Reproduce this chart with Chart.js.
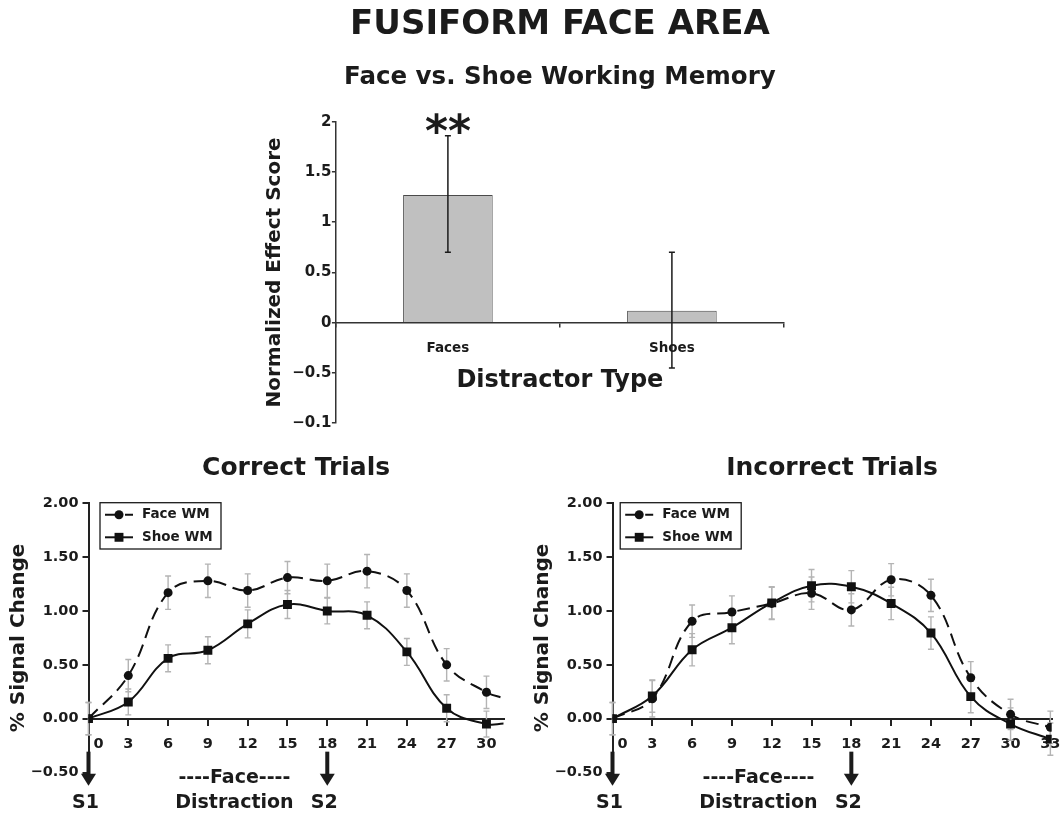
<!DOCTYPE html>
<html>
<head>
<meta charset="utf-8">
<script src="https://cdn.jsdelivr.net/npm/chart.js@4.4.0/dist/chart.umd.min.js"></script>
<style>
  html, body { margin: 0; padding: 0; background: #fff; }
  #wrap { position: relative; width: 1061px; height: 813px; overflow: hidden; }
  .box { position: absolute; }
</style>
</head>
<body>
<div id="wrap">
  <div class="box" style="left:0;top:0;width:1061px;height:500px"><canvas id="bar"></canvas></div>
  <div class="box" style="left:0;top:450px;width:524px;height:363px"><canvas id="correct"></canvas></div>
  <div class="box" style="left:524px;top:450px;width:537px;height:363px"><canvas id="incorrect"></canvas></div>
</div>
<script>
// top panel: normalized effect score per distractor type
const distractorTypes = ['Faces', 'Shoes'];
const effectScores = [1.27, 0.12];
const effectLow = [0.70, -0.45];
const effectHigh = [1.86, 0.70];
const effectMarks = ['**', ''];

// time courses (seconds after S1), % signal change
const secondsCorrect = [0, 3, 6, 9, 12, 15, 18, 21, 24, 27, 30, 31.3];
const faceCorrect = [0, 0.40, 1.17, 1.28, 1.19, 1.31, 1.28, 1.37, 1.19, 0.50, 0.245, 0.19];
const faceCorrectErr = [0.15, 0.15, 0.155, 0.155, 0.155, 0.15, 0.155, 0.155, 0.155, 0.15, 0.15, null];
const shoeCorrect = [0, 0.155, 0.56, 0.635, 0.88, 1.06, 1.00, 0.96, 0.62, 0.097, -0.05, -0.045];
const shoeCorrectErr = [0.15, 0.12, 0.125, 0.125, 0.13, 0.13, 0.12, 0.125, 0.125, 0.125, 0.12, null];

const secondsIncorrect = [0, 3, 6, 9, 12, 15, 18, 21, 24, 27, 30, 33];
const faceIncorrect = [0, 0.185, 0.905, 0.99, 1.07, 1.165, 1.01, 1.29, 1.145, 0.38, 0.04, -0.08];
const faceIncorrectErr = [0.15, 0.17, 0.15, 0.15, 0.15, 0.15, 0.15, 0.15, 0.15, 0.15, 0.14, 0.15];
const shoeIncorrect = [0, 0.21, 0.64, 0.845, 1.075, 1.235, 1.225, 1.07, 0.795, 0.205, -0.05, -0.19];
const shoeIncorrectErr = [0.15, 0.15, 0.15, 0.15, 0.15, 0.15, 0.15, 0.15, 0.15, 0.15, 0.15, 0.15];

// trial events under the time axis
const stimulusTimes = [0, 18];
const stimulusLabels = ['S1', 'S2'];
const distractionTime = 11;
const distractionLabel = ['----Face----', 'Distraction'];

const INK = '#1b1b1b';
Chart.defaults.font.family = "'DejaVu Sans', sans-serif";
Chart.defaults.font.weight = 'bold';
Chart.defaults.color = INK;

function minus(s) { return s.replace('-', '\u2212'); }

// error bars + ** for the bar panel
const barErrors = {
  id: 'barErrors',
  afterDatasetsDraw(chart) {
    const ctx = chart.ctx, y = chart.scales.y;
    const ds = chart.data.datasets[0];
    chart.getDatasetMeta(0).data.forEach((el, i) => {
      const top = y.getPixelForValue(ds.errHigh[i]);
      const bot = y.getPixelForValue(ds.errLow[i]);
      ctx.save();
      ctx.strokeStyle = INK; ctx.lineWidth = 1.5;
      ctx.beginPath();
      ctx.moveTo(el.x, top); ctx.lineTo(el.x, bot);
      ctx.moveTo(el.x - 3, top); ctx.lineTo(el.x + 3, top);
      ctx.moveTo(el.x - 3, bot); ctx.lineTo(el.x + 3, bot);
      ctx.stroke();
      if (ds.marks[i]) {
        ctx.fillStyle = INK;
        ctx.font = "bold 44px 'DejaVu Sans'";
        ctx.textAlign = 'center';
        ctx.textBaseline = 'alphabetic';
        ctx.fillText(ds.marks[i], el.x, top + 10);
      }
      ctx.restore();
    });
  }
};

// grey error bars behind the time-course lines
const lineErrors = {
  id: 'lineErrors',
  beforeDatasetsDraw(chart) {
    const ctx = chart.ctx, y = chart.scales.y;
    ctx.save();
    ctx.strokeStyle = '#b4b4b4'; ctx.lineWidth = 1.4;
    chart.data.datasets.forEach((ds, di) => {
      chart.getDatasetMeta(di).data.forEach((el, i) => {
        const e = ds.errors[i];
        if (e == null) return;
        const v = ds.data[i].y;
        const t = y.getPixelForValue(v + e), b = y.getPixelForValue(v - e);
        ctx.beginPath();
        ctx.moveTo(el.x, t); ctx.lineTo(el.x, b);
        ctx.moveTo(el.x - 3, t); ctx.lineTo(el.x + 3, t);
        ctx.moveTo(el.x - 3, b); ctx.lineTo(el.x + 3, b);
        ctx.stroke();
      });
    });
    ctx.restore();
  }
};

// boxed legend inside the plot, top left
const boxLegend = {
  id: 'boxLegend',
  afterDraw(chart, args, opts) {
    const ctx = chart.ctx, area = chart.chartArea;
    const bx = area.left + opts.dx, by = area.top + opts.dy;
    ctx.save();
    ctx.fillStyle = '#fff';
    ctx.fillRect(bx, by, opts.width, opts.height);
    ctx.strokeStyle = INK; ctx.lineWidth = 1.3;
    ctx.strokeRect(bx, by, opts.width, opts.height);
    chart.data.datasets.forEach((ds, i) => {
      const cy = by + 12 + i * 22.6;
      ctx.strokeStyle = ds.borderColor; ctx.lineWidth = ds.borderWidth;
      ctx.setLineDash(ds.borderDash || []);
      ctx.beginPath(); ctx.moveTo(bx + 5, cy); ctx.lineTo(bx + 33, cy); ctx.stroke();
      ctx.setLineDash([]);
      ctx.fillStyle = ds.borderColor;
      const r = ds.markerRadius;
      ctx.beginPath();
      if (ds.pointStyle === 'rect') {
        const h = r * Math.SQRT1_2;
        ctx.rect(bx + 19 - h, cy - h, 2 * h, 2 * h);
      } else {
        ctx.arc(bx + 19, cy, r, 0, Math.PI * 2);
      }
      ctx.fill();
      ctx.fillStyle = INK;
      ctx.font = "bold 13.5px 'DejaVu Sans'";
      ctx.textAlign = 'left'; ctx.textBaseline = 'middle';
      ctx.fillText(ds.label, bx + 42, cy);
    });
    ctx.restore();
  }
};

// S1 / S2 arrows and the distraction label
const trialEvents = {
  id: 'trialEvents',
  afterDraw(chart) {
    const ctx = chart.ctx, x = chart.scales.x, y = chart.scales.y;
    const y0 = y.getPixelForValue(0);
    ctx.save();
    ctx.fillStyle = INK; ctx.strokeStyle = INK;
    ctx.textAlign = 'center'; ctx.textBaseline = 'alphabetic';
    stimulusTimes.forEach((t, i) => {
      const px = x.getPixelForValue(t);
      ctx.fillRect(px - 2, y0 + 33, 4, 24);
      ctx.beginPath();
      ctx.moveTo(px - 7.5, y0 + 55); ctx.lineTo(px + 7.5, y0 + 55); ctx.lineTo(px, y0 + 67);
      ctx.closePath(); ctx.fill();
      ctx.font = "bold 19px 'DejaVu Sans'";
      ctx.fillText(stimulusLabels[i], px - 3, y0 + 89.5);
    });
    const dx = x.getPixelForValue(distractionTime);
    ctx.font = "bold 19px 'DejaVu Sans'";
    ctx.fillText(distractionLabel[0], dx, y0 + 64.5);
    ctx.fillText(distractionLabel[1], dx, y0 + 89.5);
    ctx.restore();
  }
};

new Chart(document.getElementById('bar'), {
  type: 'bar',
  data: {
    labels: distractorTypes,
    datasets: [{
      data: effectScores,
      errLow: effectLow, errHigh: effectHigh, marks: effectMarks,
      backgroundColor: '#c0c0c0', borderColor: '#4a4a4a', borderWidth: 1,
      categoryPercentage: 0.5, barPercentage: 0.8
    }]
  },
  options: {
    responsive: true, maintainAspectRatio: false, animation: false,
    layout: { padding: { top: 0, right: 277.1, bottom: 76.8, left: 0 } },
    plugins: {
      legend: { display: false }, tooltip: { enabled: false },
      title: { display: true, text: 'FUSIFORM FACE AREA', fullSize: false,
        font: { size: 34, weight: 'bold' }, padding: { top: 5, bottom: 4 } },
      subtitle: { display: true, text: 'Face vs. Shoe Working Memory', fullSize: false,
        color: INK, font: { size: 24.5, weight: 'bold' }, padding: { top: 13.5, bottom: 29 } }
    },
    scales: {
      x: {
        position: { y: 0 },
        afterFit(s) { s.height = 72.8; s.paddingLeft = 0; s.paddingRight = 0; },
        border: { color: '#333', width: 1.5 },
        grid: { offset: true, drawOnChartArea: false, tickLength: 4, color: '#333', lineWidth: 1.5 },
        ticks: { padding: 14, font: { size: 13.5 } },
        title: { display: true, text: 'Distractor Type', font: { size: 24, weight: 'bold' },
          padding: { top: 0, bottom: 0 } }
      },
      y: {
        min: -1, max: 2,
        afterFit(s) { s.width = 335.9; },
        border: { color: '#333', width: 1.5 },
        grid: { drawOnChartArea: false, tickLength: 4, color: '#333', lineWidth: 1.5 },
        ticks: { stepSize: 0.5, padding: 0.5, font: { size: 15 },
          callback: v => v === -1 ? '\u22120.1' : minus(String(v)) },
        title: { display: true, text: 'Normalized Effect Score', font: { size: 20, weight: 'bold' },
          padding: { top: 262.6, bottom: 0 } }
      }
    }
  },
  plugins: [barErrors]
});

function timeCourse(id, title, seconds, face, faceErr, shoe, shoeErr, xMax, padRight, legendDx) {
  const pts = arr => seconds.map((s, i) => ({ x: s, y: arr[i] }));
  return new Chart(document.getElementById(id), {
    type: 'line',
    data: {
      datasets: [{
        label: 'Face WM', data: pts(face), errors: faceErr,
        borderColor: '#111', backgroundColor: '#111', borderWidth: 2, borderDash: [13, 7],
        pointStyle: 'circle', markerRadius: 4.5, pointBorderWidth: 0,
        pointRadius: c => faceErr[c.dataIndex] == null ? 0 : 4.5,
        tension: 0.4, fill: false
      }, {
        label: 'Shoe WM', data: pts(shoe), errors: shoeErr,
        borderColor: '#111', backgroundColor: '#111', borderWidth: 2,
        pointStyle: 'rect', markerRadius: 6.3, pointBorderWidth: 0,
        pointRadius: c => shoeErr[c.dataIndex] == null ? 0 : 6.3,
        tension: 0.4, fill: false
      }]
    },
    options: {
      responsive: true, maintainAspectRatio: false, animation: false,
      layout: { padding: { top: 0, right: padRight, bottom: 40.5, left: 0 } },
      plugins: {
        legend: { display: false }, tooltip: { enabled: false },
        title: { display: true, text: title, fullSize: false,
          font: { size: 25, weight: 'bold' }, padding: { top: 3, bottom: 20.3 } },
        boxLegend: { dx: legendDx, dy: -0.6, width: 121, height: 46.3 }
      },
      scales: {
        x: {
          type: 'linear', min: 0, max: xMax, position: { y: 0 },
          afterFit(s) { s.height = 40.5; s.paddingLeft = 0; s.paddingRight = 0; },
          border: { color: '#222', width: 2 },
          grid: { drawOnChartArea: false, tickLength: 6, color: '#222', lineWidth: 2 },
          ticks: { stepSize: 3, includeBounds: false, autoSkip: false, maxRotation: 0,
            padding: 11, font: { size: 14.5 },
            callback: v => v === 0 ? '    0' : String(v) }
        },
        y: {
          min: -0.5, max: 2,
          afterFit(s) { s.width = 88.5; },
          border: { color: '#222', width: 2 },
          grid: { drawOnChartArea: false, tickLength: 6, color: '#222', lineWidth: 2 },
          ticks: { stepSize: 0.5, padding: 4, font: { size: 14.5 },
            callback: v => minus(v.toFixed(2)) },
          title: { display: true, text: '% Signal Change', font: { size: 20, weight: 'bold' },
            padding: { top: 6.6, bottom: 0 } }
        }
      }
    },
    plugins: [lineErrors, boxLegend, trialEvents]
  });
}

timeCourse('correct', 'Correct Trials', secondsCorrect, faceCorrect, faceCorrectErr,
  shoeCorrect, shoeCorrectErr, 31.3, 20.3, 11.5);
timeCourse('incorrect', 'Incorrect Trials', secondsIncorrect, faceIncorrect, faceIncorrectErr,
  shoeIncorrect, shoeIncorrectErr, 33.1, 9.3, 7.7);
</script>
</body>
</html>
